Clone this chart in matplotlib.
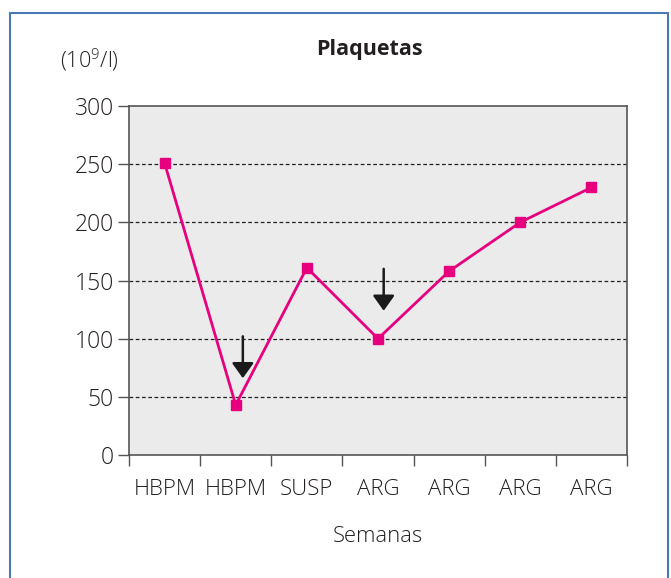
import matplotlib
matplotlib.use('Agg')
import matplotlib.pyplot as plt
from matplotlib.patches import Rectangle
import numpy as np

plt.rcParams['font.family'] = ['Open Sans', 'DejaVu Sans']
plt.rcParams['font.weight'] = 'light'
plt.rcParams['mathtext.fontset'] = 'custom'
plt.rcParams['mathtext.rm'] = 'Open Sans:light'

categories = ['HBPM', 'HBPM', 'SUSP', 'ARG', 'ARG', 'ARG', 'ARG']
plaquetas = [251, 43, 161, 100, 158, 200, 230]
# arrows: (x index, start value, end value)
arrows = [(1.1, 102, 66), (3.08, 160, 124)]

txt = '#231f20'

fig = plt.figure(figsize=(6.71, 5.78), dpi=100)

# blue frame around the figure
fig.patches.append(Rectangle((10 / 671, -0.05), 658 / 671, 1.05 - 13 / 578,
                             transform=fig.transFigure, fill=False,
                             edgecolor='#4a7ab4', linewidth=1.5))

ax = fig.add_axes([129 / 671, 1 - 455 / 578, 498 / 671, 349 / 578])
ax.set_facecolor('#ebebeb')

x = np.arange(len(categories))
ax.plot(x, plaquetas, color='#e6007e', linewidth=2, marker='s',
        markersize=7, zorder=3)

for xa, y0, y1 in arrows:
    ax.annotate('', xy=(xa, y1), xytext=(xa, y0),
                arrowprops=dict(arrowstyle='-|>,head_length=0.42,head_width=0.3',
                                color='#1a1a1a', lw=1.8,
                                mutation_scale=22, shrinkA=0, shrinkB=0),
                zorder=4)

ax.set_xlim(-0.5, len(categories) - 0.5)
ax.set_ylim(0, 300)
ax.set_yticks(range(0, 301, 50))
ax.set_xticks(x)
ax.set_xticklabels(categories)
ax.set_xticks(np.arange(len(categories) + 1) - 0.5, minor=True)
ax.tick_params(axis='x', which='major', length=0, labelsize=16, pad=17,
               colors=txt)
ax.tick_params(axis='x', which='minor', length=8, width=1, color='#555555')
ax.tick_params(axis='y', length=8, width=1, color='#555555', labelsize=16.5,
               labelcolor=txt, pad=3)

for v in range(50, 300, 50):
    ax.axhline(v, color='#222222', linestyle=(0, (3, 2)), linewidth=0.9,
               zorder=1)

for s in ax.spines.values():
    s.set_color('#555555')
    s.set_linewidth(1.2)

ax.set_xlabel('Semanas', fontsize=15.8, color=txt, labelpad=19,
              fontweight='light')
fig.text(369 / 671, 1 - 50 / 578, 'Plaquetas', ha='center', va='center',
         fontsize=15.5, fontweight='bold', color=txt)
fig.text(89 / 671, 1 - 60 / 578, '(10$^{9}$/l)', ha='center', va='center',
         fontsize=15.5, color=txt, fontweight='light')

fig.savefig('out.png', dpi=100)
plt.close()
